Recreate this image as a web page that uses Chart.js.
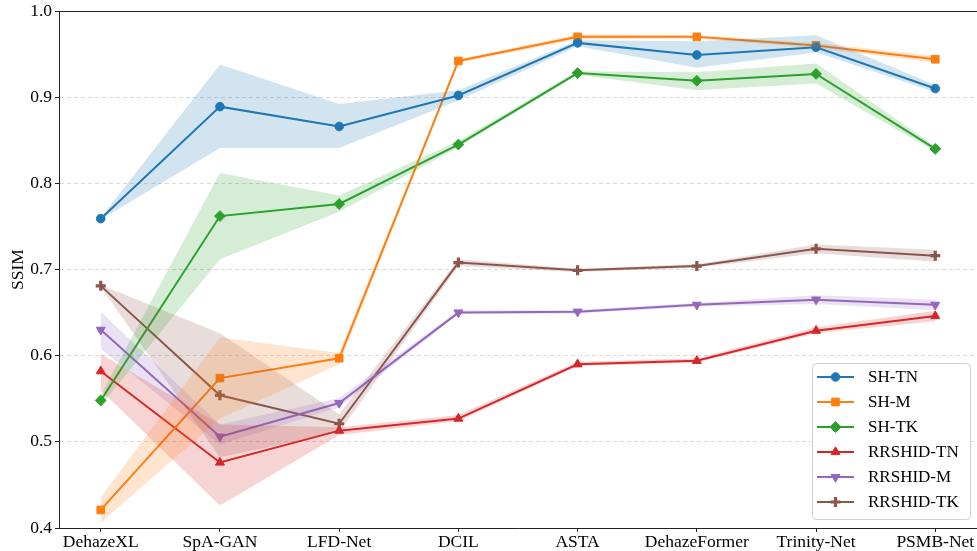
<!DOCTYPE html>
<html>
<head>
<meta charset="utf-8">
<script src="https://cdn.jsdelivr.net/npm/chart.js@4.4.0/dist/chart.umd.min.js"></script>
<style>
  html, body { margin: 0; padding: 0; background: #fff; }
</style>
</head>
<body>
<canvas id="c" width="977" height="551"></canvas>
<script>
'use strict';

// methods along the x axis
const methods = ['DehazeXL', 'SpA-GAN', 'LFD-Net', 'DCIL', 'ASTA', 'DehazeFormer', 'Trinity-Net', 'PSMB-Net'];
const yTicks = [0.4, 0.5, 0.6, 0.7, 0.8, 0.9, 1.0];

// SSIM per dataset (mean, lower band, upper band)
const shTN      = [0.759, 0.889, 0.866, 0.902, 0.963, 0.949, 0.958, 0.910];
const shTNLow   = [0.758, 0.841, 0.841, 0.896, 0.959, 0.934, 0.952, 0.906];
const shTNHigh  = [0.760, 0.938, 0.892, 0.908, 0.966, 0.965, 0.972, 0.914];

const shM       = [0.421, 0.574, 0.597, 0.942, 0.970, 0.970, 0.960, 0.944];
const shMLow    = [0.406, 0.527, 0.590, 0.940, 0.967, 0.968, 0.957, 0.940];
const shMHigh   = [0.436, 0.621, 0.603, 0.944, 0.973, 0.972, 0.963, 0.948];

const shTK      = [0.548, 0.762, 0.776, 0.845, 0.928, 0.919, 0.927, 0.840];
const shTKLow   = [0.542, 0.712, 0.767, 0.842, 0.926, 0.908, 0.916, 0.837];
const shTKHigh  = [0.554, 0.812, 0.786, 0.849, 0.930, 0.929, 0.939, 0.843];

const rrTN      = [0.582, 0.476, 0.513, 0.527, 0.590, 0.594, 0.629, 0.646];
const rrTNLow   = [0.560, 0.426, 0.508, 0.524, 0.588, 0.592, 0.626, 0.640];
const rrTNHigh  = [0.602, 0.520, 0.517, 0.531, 0.593, 0.597, 0.633, 0.652];

const rrM       = [0.630, 0.506, 0.545, 0.650, 0.651, 0.659, 0.665, 0.659];
const rrMLow    = [0.608, 0.497, 0.540, 0.648, 0.649, 0.657, 0.660, 0.653];
const rrMHigh   = [0.651, 0.520, 0.551, 0.652, 0.653, 0.661, 0.670, 0.665];

const rrTK      = [0.681, 0.554, 0.521, 0.708, 0.699, 0.704, 0.724, 0.716];
const rrTKLow   = [0.680, 0.482, 0.511, 0.704, 0.697, 0.702, 0.719, 0.709];
const rrTKHigh  = [0.682, 0.626, 0.532, 0.712, 0.701, 0.706, 0.729, 0.723];

const series = [
  {label: 'SH-TN',      color: [31, 119, 180], style: 'circle',   rot: 0,   r: 4.3, bw: 1, data: shTN, low: shTNLow, high: shTNHigh},
  {label: 'SH-M',       color: [255, 127, 14], style: 'rect',     rot: 0,   r: 5.4, bw: 1, data: shM,  low: shMLow,  high: shMHigh},
  {label: 'SH-TK',      color: [44, 160, 44],  style: 'rectRot',  rot: 0,   r: 5.4, bw: 1, data: shTK, low: shTKLow, high: shTKHigh},
  {label: 'RRSHID-TN',  color: [214, 39, 40],  style: 'triangle', rot: 0,   r: 5.2, bw: 1, data: rrTN, low: rrTNLow, high: rrTNHigh},
  {label: 'RRSHID-M',   color: [148, 103, 189],style: 'triangle', rot: 180, r: 5.2, bw: 1, data: rrM,  low: rrMLow,  high: rrMHigh},
  {label: 'RRSHID-TK',  color: [140, 86, 75],  style: 'cross',    rot: 0,   r: 5,   bw: 3.2, data: rrTK, low: rrTKLow, high: rrTKHigh}
];

const FONT = "'Liberation Serif', 'Times New Roman', serif";

function rgb(c, a){
  if(a == undefined) return 'rgb(' + c.join(',') + ')';
  return 'rgba(' + c.join(',') + ',' + a + ')';
}

function pts(arr){
  return arr.map(function(v, i){ return {x: i, y: v}; });
}

// bands first (pairs of low/high), then the lines on top
var datasets = [];
series.forEach(function(s){
  var lowIdx = datasets.length;
  datasets.push({
    data: pts(s.low), borderWidth: 0, pointRadius: 0, fill: false,
    borderColor: 'rgba(0,0,0,0)'
  });
  datasets.push({
    data: pts(s.high), borderWidth: 0, pointRadius: 0,
    borderColor: 'rgba(0,0,0,0)',
    fill: {target: lowIdx}, backgroundColor: rgb(s.color, 0.2)
  });
});
series.forEach(function(s){
  datasets.push({
    label: s.label,
    data: pts(s.data),
    borderColor: rgb(s.color),
    backgroundColor: rgb(s.color),
    borderWidth: 2,
    fill: false,
    pointStyle: s.style,
    pointRotation: s.rot,
    pointRadius: s.r,
    pointBorderWidth: s.bw,
    pointBackgroundColor: rgb(s.color),
    pointBorderColor: rgb(s.color)
  });
});

// top spine + legend box in the lower right
const frame = {
  id: 'frame',
  afterDraw: function(chart){
    var ctx = chart.ctx;
    var a = chart.chartArea;
    ctx.save();
    ctx.strokeStyle = '#222';
    ctx.lineWidth = 1;
    ctx.beginPath();
    ctx.moveTo(a.left, a.top + 0.5);
    ctx.lineTo(a.right, a.top + 0.5);
    ctx.stroke();

    // legend
    var bx = 812, by = 363, bw = 158, bh = 156;
    ctx.beginPath();
    ctx.roundRect(bx + 0.5, by + 0.5, bw, bh, 4);
    ctx.fillStyle = 'rgba(255,255,255,0.85)';
    ctx.fill();
    ctx.strokeStyle = '#d0d0d0';
    ctx.stroke();

    ctx.font = '17px ' + FONT;
    ctx.textBaseline = 'middle';
    ctx.textAlign = 'left';
    series.forEach(function(s, i){
      var y = 377 + i * 25;
      ctx.strokeStyle = rgb(s.color);
      ctx.fillStyle = rgb(s.color);
      ctx.lineWidth = 2;
      ctx.beginPath();
      ctx.moveTo(817, y);
      ctx.lineTo(854, y);
      ctx.stroke();
      ctx.lineWidth = s.bw;
      Chart.helpers.drawPoint(ctx, {
        pointStyle: s.style, rotation: s.rot, radius: s.r, borderWidth: s.bw
      }, 835.5, y);
      ctx.fillStyle = '#000';
      ctx.fillText(s.label, 868, y + 1);
    });
    ctx.restore();
  }
};

new Chart(document.getElementById('c'), {
  type: 'line',
  data: {datasets: datasets},
  options: {
    responsive: false,
    animation: false,
    devicePixelRatio: 1,
    layout: {autoPadding: false, padding: {top: 11, right: 0, left: 0, bottom: 0}},
    plugins: {
      legend: {display: false},
      tooltip: {enabled: false},
      filler: {propagate: false}
    },
    scales: {
      x: {
        type: 'linear',
        min: -0.35,
        max: 7.35,
        afterBuildTicks: function(scale){
          scale.ticks = methods.map(function(m, i){ return {value: i}; });
        },
        afterFit: function(scale){
          scale.height = 23;
          scale.paddingLeft = 0;
          scale.paddingRight = 0;
        },
        ticks: {
          color: '#000',
          padding: 0,
          maxRotation: 0,
          autoSkip: false,
          font: {family: FONT, size: 17.5},
          callback: function(v){ return methods[v]; }
        },
        grid: {drawOnChartArea: false, tickLength: 4, tickColor: '#222', tickWidth: 1},
        border: {color: '#222', width: 1}
      },
      y: {
        min: 0.4,
        max: 1.0,
        afterBuildTicks: function(scale){
          scale.ticks = yTicks.map(function(v){ return {value: v}; });
        },
        afterFit: function(scale){
          scale.width = 59;
          scale.paddingTop = 0;
          scale.paddingBottom = 0;
        },
        ticks: {
          color: '#000',
          padding: 3,
          font: {family: FONT, size: 17.5},
          callback: function(v){ return v.toFixed(1); }
        },
        grid: {
          color: '#cfcfcf', lineWidth: 0.8,
          tickLength: 4, tickColor: '#222', tickWidth: 1, tickBorderDash: []
        },
        border: {color: '#222', width: 1, dash: [4, 3]},
        title: {
          display: true, text: 'SSIM', color: '#000',
          font: {family: FONT, size: 17.5},
          padding: {top: 8, bottom: 0}
        }
      }
    }
  },
  plugins: [frame]
});
</script>
</body>
</html>
